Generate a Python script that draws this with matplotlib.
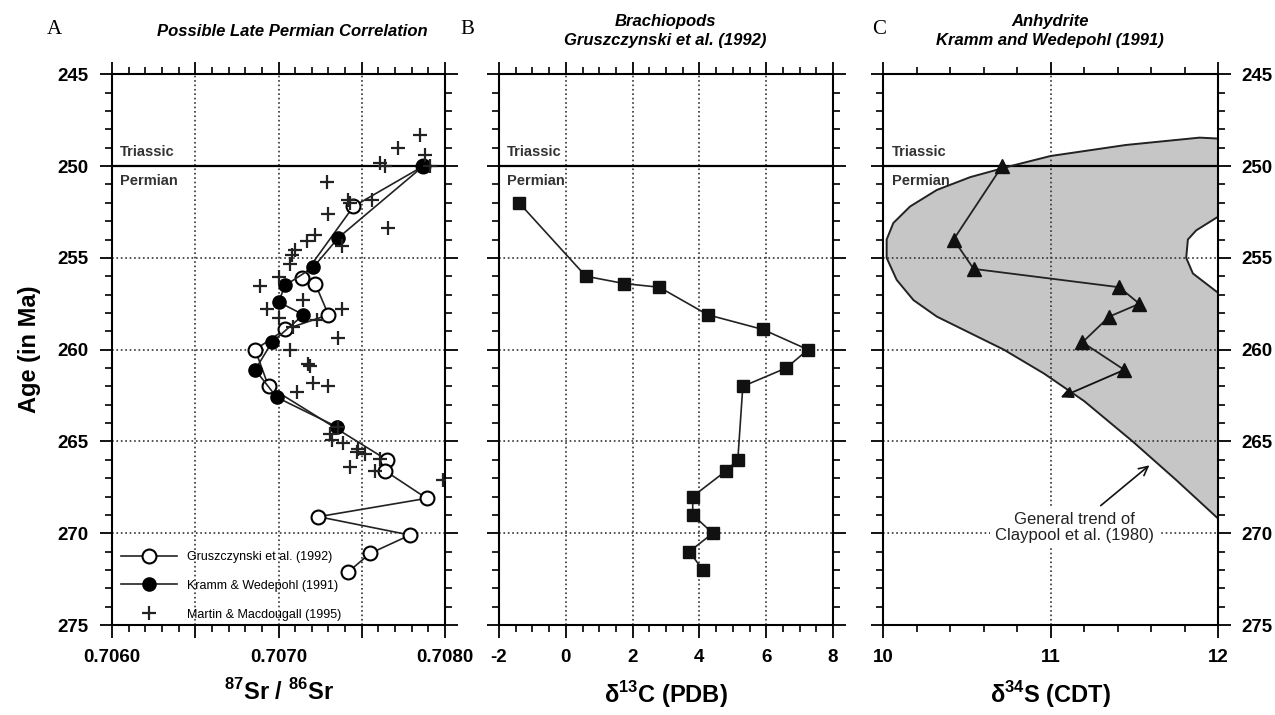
import matplotlib.pyplot as plt
from matplotlib.ticker import MultipleLocator, FuncFormatter

# ---- Panel A: 87Sr/86Sr ----
grus_sr = [0.70787, 0.70745, 0.70714, 0.70722, 0.70730, 0.70704, 0.70686, 0.70694,
           0.70765, 0.70764, 0.70789, 0.70724, 0.70779, 0.70755, 0.70742]
grus_age = [250.0, 252.2, 256.1, 256.4, 258.1, 258.9, 260.0, 262.0,
            266.0, 266.6, 268.1, 269.1, 270.1, 271.1, 272.1]

kramm_sr = [0.70787, 0.70736, 0.70721, 0.70704, 0.70700, 0.70715, 0.70696, 0.70686,
            0.70699, 0.70735]
kramm_age = [250.0, 253.9, 255.5, 256.5, 257.4, 258.1, 259.6, 261.1, 262.6, 264.2]

mm_sr = [0.70785, 0.70788, 0.70772, 0.70761, 0.70764, 0.70791, 0.70729, 0.70742,
         0.70743, 0.70756, 0.70730, 0.70766, 0.70722, 0.70717, 0.70738, 0.70710,
         0.70708, 0.70707, 0.70700, 0.70689, 0.70715, 0.70693, 0.70738, 0.70700,
         0.70723, 0.70709, 0.70736, 0.70707, 0.70718, 0.70719, 0.70721, 0.70730,
         0.70711, 0.70736, 0.70731, 0.70732, 0.70739, 0.70748, 0.70747, 0.70752,
         0.70761, 0.70743, 0.70758, 0.70799]
mm_age = [248.3, 249.4, 249.0, 249.85, 250.0, 250.0, 250.85, 251.85,
          252.0, 251.85, 252.6, 253.4, 253.75, 254.1, 254.35, 254.55,
          254.85, 255.35, 256.05, 256.55, 257.3, 257.8, 257.8, 258.3,
          258.4, 258.75, 259.35, 260.0, 260.8, 260.9, 261.8, 262.0,
          262.3, 264.2, 264.6, 264.9, 265.1, 265.4, 265.6, 265.7,
          265.95, 266.4, 266.6, 267.1]

# ---- Panel B: d13C brachiopods ----
c13 = [-1.4, 0.6, 1.75, 2.8, 4.25, 5.9, 7.25, 6.6, 5.3, 5.15, 4.8, 3.8, 3.8, 4.4, 3.7, 4.1]
c13_age = [252.0, 256.0, 256.4, 256.6, 258.1, 258.9, 260.0, 261.0, 262.0,
           266.0, 266.6, 268.0, 269.0, 270.0, 271.0, 272.0]

# ---- Panel C: d34S anhydrite ----
s34 = [10.71, 10.42, 10.54, 11.41, 11.53, 11.35, 11.19, 11.44, 11.06]
s34_age = [250.0, 254.0, 255.6, 256.6, 257.5, 258.2, 259.6, 261.1, 262.6]

env_x = [12.0, 11.89, 11.45, 11.0, 10.76, 10.52, 10.32, 10.16, 10.06, 10.02, 10.02,
         10.08, 10.18, 10.32, 10.52, 10.72, 10.96, 11.20, 11.49, 11.75, 12.0]
env_age = [248.5, 248.45, 248.85, 249.45, 250.0, 250.6, 251.3, 252.2, 253.1, 254.0, 255.0,
           256.2, 257.3, 258.2, 259.1, 260.0, 261.3, 262.8, 265.0, 267.1, 269.2]
hole_x = [12.0, 11.87, 11.82, 11.81, 11.85, 12.0]
hole_age = [252.76, 253.5, 254.0, 255.0, 255.85, 256.9]

plt.rcParams['font.family'] = ['Liberation Sans', 'DejaVu Sans']
plt.rcParams['mathtext.fontset'] = 'custom'
plt.rcParams['mathtext.rm'] = 'Liberation Sans'
plt.rcParams['mathtext.bf'] = 'Liberation Sans:bold'
plt.rcParams['axes.unicode_minus'] = False

fig = plt.figure(figsize=(12.75, 7.15), dpi=100)
W, H = 1275, 715
def box(l, r):
    return [l / W, 1 - 625 / H, (r - l) / W, (625 - 74.3) / H]

axA = fig.add_axes(box(112, 445))
axB = fig.add_axes(box(499, 833))
axC = fig.add_axes(box(883.3, 1218))

for ax in (axA, axB, axC):
    ax.set_ylim(275, 245)
    ax.yaxis.set_major_locator(MultipleLocator(5))
    ax.yaxis.set_minor_locator(MultipleLocator(1))
    ax.xaxis.set_ticks_position('both')
    ax.yaxis.set_ticks_position('both')
    ax.tick_params(which='major', direction='out', length=9, width=1.3,
                   labelsize=13.5, pad=8)
    ax.tick_params(which='minor', direction='out', length=5, width=1.2)
    ax.tick_params(labelleft=False, labelright=False, labeltop=False)
    for s in ax.spines.values():
        s.set_linewidth(1.5)
    ax.grid(True, which='major', linestyle=':', linewidth=1.2, color='#333333')
    ax.axhline(250, color='black', linewidth=1.6, zorder=2)
    ax.text(0.025, 249.6, 'Triassic', transform=ax.get_yaxis_transform(),
            fontsize=10.5, fontweight='bold', color='#333333', va='bottom', zorder=6)
    ax.text(0.025, 250.45, 'Permian', transform=ax.get_yaxis_transform(),
            fontsize=10.5, fontweight='bold', color='#333333', va='top', zorder=6)

# Panel A
axA.set_xlim(0.7060, 0.7080)
axA.xaxis.set_major_locator(MultipleLocator(0.0005))
axA.xaxis.set_minor_locator(MultipleLocator(0.0001))
axA.xaxis.set_major_formatter(FuncFormatter(
    lambda v, p: '%.4f' % v if abs(round(v / 0.0005)) % 2 == 0 else ''))
axA.tick_params(labelleft=True)
lg, = axA.plot(grus_sr, grus_age, '-', color='#222222', lw=1.2, marker='o', ms=10,
               mfc='white', mec='black', mew=1.5, zorder=3)
lk, = axA.plot(kramm_sr, kramm_age, '-', color='#222222', lw=1.2, marker='o', ms=9.5,
               mfc='black', mec='black', zorder=4)
lm, = axA.plot(mm_sr, mm_age, '+', color='#222222', ms=10, mew=1.6, zorder=5)
axA.legend([lg, lk, lm], ['Gruszczynski et al. (1992)', 'Kramm & Wedepohl (1991)',
                          'Martin & Macdougall (1995)'],
           loc='lower left', bbox_to_anchor=(0.0, -0.008), frameon=False, fontsize=9,
           handlelength=4.5, labelspacing=1.35, borderaxespad=0.3)
axA.set_ylabel('Age (in Ma)', fontsize=17, fontweight='bold', labelpad=12)
axA.set_xlabel(r'$^{\mathbf{87}}$Sr / $^{\mathbf{86}}$Sr', fontsize=17,
               fontweight='bold', labelpad=10)

# Panel B
axB.set_xlim(-2, 8)
axB.xaxis.set_major_locator(MultipleLocator(2))
axB.xaxis.set_minor_locator(MultipleLocator(0.5))
axB.plot(c13, c13_age, '-', color='#222222', lw=1.2, marker='s', ms=9,
         mfc='#111111', mec='#111111', zorder=4)
axB.set_xlabel(r'$\mathbf{\delta}^{\mathbf{13}}$C (PDB)', fontsize=17,
               fontweight='bold', labelpad=10)

# Panel C
axC.set_xlim(10, 12)
axC.xaxis.set_major_locator(MultipleLocator(1))
axC.xaxis.set_minor_locator(MultipleLocator(0.2))
axC.tick_params(labelright=True)
axC.fill(env_x, env_age, facecolor='#c6c6c6', edgecolor='none', zorder=1)
axC.plot(env_x, env_age, color='#222222', lw=1.4, zorder=2)
axC.fill(hole_x, hole_age, facecolor='white', edgecolor='none', zorder=1.2)
axC.plot(hole_x, hole_age, color='#222222', lw=1.4, zorder=2)
axC.plot(s34[:-1], s34_age[:-1], '-', color='#222222', lw=1.3, marker='^', ms=10,
         mfc='#111111', mec='#111111', zorder=4)
axC.annotate('', xy=(s34[-1], s34_age[-1]), xytext=(s34[-2], s34_age[-2]),
             arrowprops=dict(arrowstyle='-|>', color='#111111', lw=1.3,
                             mutation_scale=18, shrinkA=0, shrinkB=0), zorder=4)
axC.annotate('General trend of\nClaypool et al. (1980)', xy=(11.59, 266.3),
             xytext=(11.14, 269.7), ha='center', va='center', fontsize=12,
             color='#222222', linespacing=1.05,
             bbox=dict(boxstyle='square,pad=0.3', fc='white', ec='none'),
             arrowprops=dict(arrowstyle='->', color='#111111', lw=1.2,
                             mutation_scale=16, shrinkA=2, shrinkB=0),
             zorder=6)
axC.set_xlabel(r'$\mathbf{\delta}^{\mathbf{34}}$S (CDT)', fontsize=17,
               fontweight='bold', labelpad=10)

for ax in (axA, axB, axC):
    for lab in ax.get_xticklabels() + ax.get_yticklabels():
        lab.set_fontweight('bold')

title_kw = dict(fontsize=12, fontweight='bold', style='italic', ha='center',
                va='center', family=['Liberation Sans Narrow', 'Liberation Sans'])
fig.text(292 / W, 1 - 31 / H, 'Possible Late Permian Correlation', **title_kw)
fig.text(665 / W, 1 - 31 / H, 'Brachiopods\nGruszczynski et al. (1992)',
         linespacing=1.35, **title_kw)
fig.text(1050 / W, 1 - 31 / H, 'Anhydrite\nKramm and Wedepohl (1991)',
         linespacing=1.35, **title_kw)
letter_kw = dict(fontsize=15, ha='center', va='center',
                 family=['Liberation Serif', 'DejaVu Serif'])
fig.text(54 / W, 1 - 30 / H, 'A', **letter_kw)
fig.text(467 / W, 1 - 30 / H, 'B', **letter_kw)
fig.text(879 / W, 1 - 30 / H, 'C', **letter_kw)

fig.savefig('out.png', dpi=100)
